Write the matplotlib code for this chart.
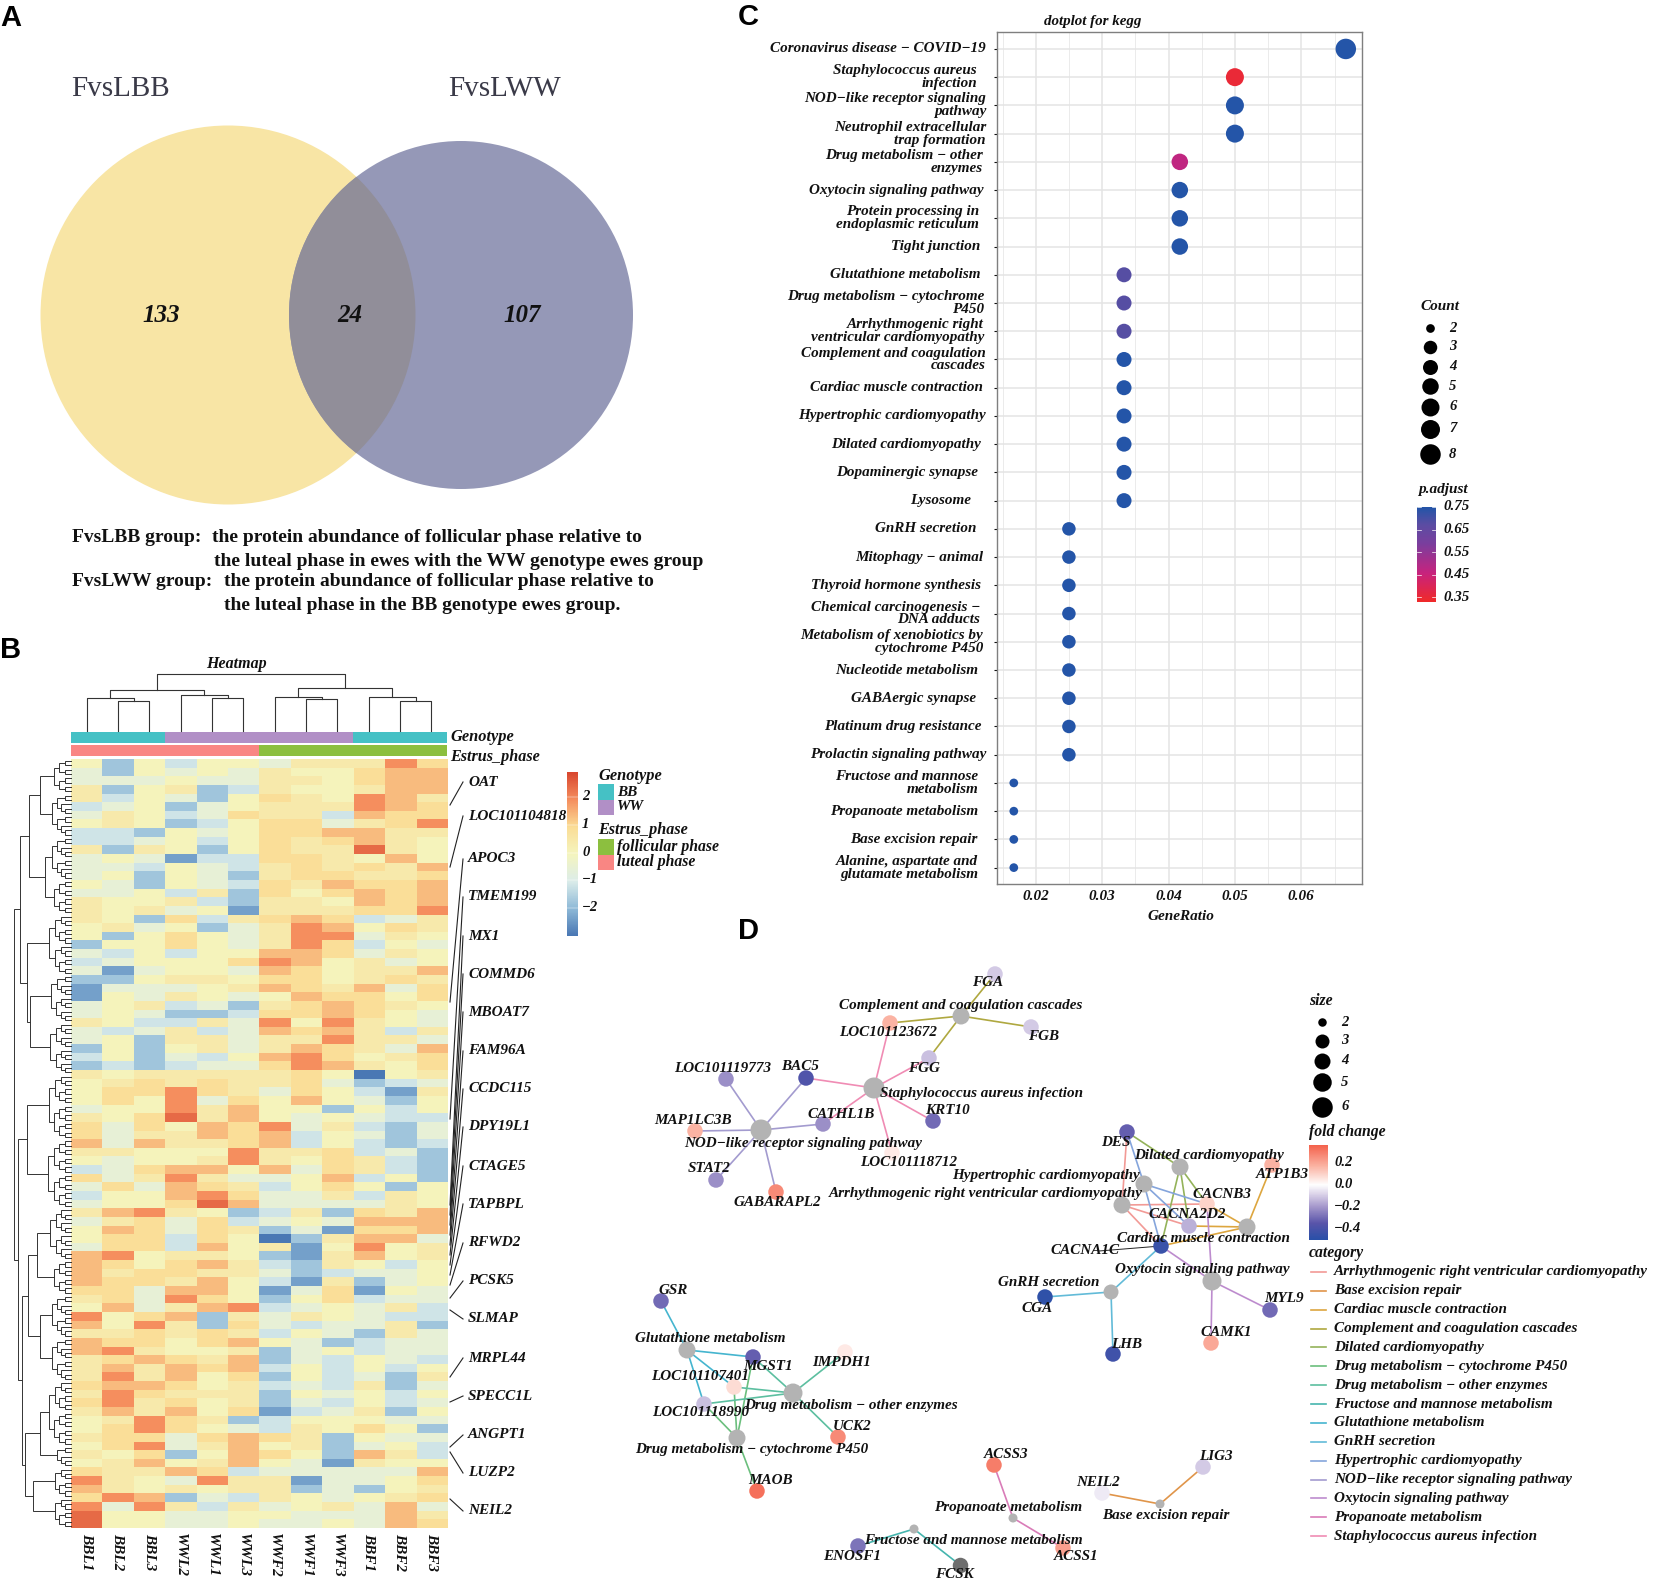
import numpy as np
import matplotlib
matplotlib.use("Agg")
import matplotlib.pyplot as plt
from matplotlib.colors import LinearSegmentedColormap, ListedColormap
from matplotlib.patches import Ellipse, Rectangle

W, H = 1654, 1582

# panel A
venn_counts = ["133", "24", "107"]
venn_names = ["FvsLBB", "FvsLWW"]

# panel B, one string per row, one letter per sample, a = lowest z-score, k = highest
samples = ["BBL1", "BBL2", "BBL3", "WWL2", "WWL1", "WWL3", "WWF2", "WWF1", "WWF3", "BBF1", "BBF2", "BBF3"]
level_values = dict(a=-3.0, b=-2.4, c=-1.8, d=-1.2, e=-0.6, f=0.0, g=0.4, h=0.85, i=1.35, j=1.9, k=2.4)
heat_rows = [
    "fcfdffegggjh", "ecfefegffhii", "eeefeeggfhii", "gcfgcdgffgii", "gdfecfhgfjig", "defcefgggjih",
    "egfdehggdihh", "fgfcdfhheghj", "ddcfefhhiigg", "ddefdfhghigf", "gcgfcfhggkgf", "efebddhhgfif",
    "eedfedghghgi", "efcfecghhggh", "fecfedhgihhi", "eefdgchfhihi", "gffgdcggfihi", "gfgefbggghhj",
    "gfchdghihdeg", "fgefcegjifhg", "fcfhfegjjegf", "cffhfegjhdfe", "edfdffiihegf", "defffhjifgef",
    "ebeffeihfggi", "ccfggfhhfghg", "beeefgihgieh", "bfegfefihhfh", "efgdecghihgf", "efeccdhhihfe",
    "gfddgejfjgfe", "edegdeihigdg", "efcggeggjgge", "cfcfgegihgei", "dfcedfijhfgh", "cdcdeehjigfh",
    "gfggggghfafg", "fghghgghecde", "fhhjhgehfdbg", "fhfjehfifecf", "effjgiffcfdf", "gfhkgifefedd",
    "hehfihjegdce", "heggihidfece", "ieigghidfdcd", "ggfffjgghdec", "feffgjgfhgdc", "dehiifiehgdc",
    "hegjgeefidfc", "eheihgdfhfcf", "dffijheegdgf", "effhkieeeegf", "gijgfcdgchgi", "eghehdefeiii",
    "fihehgcebhhi", "fhhdhfacgiie", "ehhdifgbfjfg", "ijfggfcbgifg", "ihfhigdcgfdf", "ighhggecdeef",
    "ihhgifdbgcef", "hheiifbehbfe", "ghejhfcfhdee", "fiegijdefegd", "jfhicgegfedd", "ifjgchedeegc",
    "gghghgdfecge", "ihhfhifecdee", "ijgffgcefdee", "ghihgicedfed", "gigihidfdfdf", "gjgifhcfdecg",
    "hiihfgdedgce", "gjhgggcfefdf", "hjghfgcedfde", "gigifhbdegcf", "fgjhgcdfffee", "fhjhfedgfhfc",
    "ghhehihgcfee", "fhjegifgcefd", "gfhcfihfcigd", "fgifgifebgff", "hggihdeeeeei", "jgfejggbeefh",
    "igfgfggcecfg", "hjicedgfefgh", "jejgdgefgeie", "kffeeffeeeig", "kffeefeefeih",
]
genotype = ["BB", "BB", "BB", "WW", "WW", "WW", "WW", "WW", "WW", "BB", "BB", "BB"]
estrus = ["luteal", "luteal", "luteal", "luteal", "luteal", "luteal",
          "follicular", "follicular", "follicular", "follicular", "follicular", "follicular"]
heat_genes = ["OAT", "LOC101104818", "APOC3", "TMEM199", "MX1", "COMMD6", "MBOAT7", "FAM96A", "CCDC115", "DPY19L1",
              "CTAGE5", "TAPBPL", "RFWD2", "PCSK5", "SLMAP", "MRPL44", "SPECC1L", "ANGPT1", "LUZP2", "NEIL2"]
gene_label_y = [782, 816, 859, 897, 936, 974, 1012, 1051, 1089, 1127, 1166, 1204, 1243, 1281, 1319, 1358, 1396, 1435, 1473, 1511]
gene_row_y = [805, 867, 1002, 1119, 1205, 1215, 1225, 1235, 1245, 1255, 1265, 1275, 1285, 1298, 1310, 1377, 1402, 1447, 1452, 1499]
# [height, left, right], ints are sample indices
col_tree = [674, [690, [698, 0, [701, 1, 2]], [695, 3, [698, 4, 5]]],
            [688, [697, 6, [699, 7, 8]], [697, 9, [701, 10, 11]]]]
# [x, upper, lower], ints are leaf counts
row_tree = [14, [20, [29, [40, 8, 10], [45, 10, 8]], [27, 14, [30, 11, 12]]],
            [18, [27, 15, 16], [22, [28, [37, 12, 8], [40, 10, 10]], [25, [40, 15, 5], [33, 7, 7]]]]]

# panel C
terms = ["Coronavirus disease \u2212 COVID\u221219", "Staphylococcus aureus\ninfection", "NOD\u2212like receptor signaling\npathway",
         "Neutrophil extracellular\ntrap formation", "Drug metabolism \u2212 other\nenzymes", "Oxytocin signaling pathway",
         "Protein processing in\nendoplasmic reticulum", "Tight junction", "Glutathione metabolism",
         "Drug metabolism \u2212 cytochrome\nP450", "Arrhythmogenic right\nventricular cardiomyopathy",
         "Complement and coagulation\ncascades", "Cardiac muscle contraction", "Hypertrophic cardiomyopathy",
         "Dilated cardiomyopathy", "Dopaminergic synapse", "Lysosome", "GnRH secretion", "Mitophagy \u2212 animal",
         "Thyroid hormone synthesis", "Chemical carcinogenesis \u2212\nDNA adducts", "Metabolism of xenobiotics by\ncytochrome P450",
         "Nucleotide metabolism", "GABAergic synapse", "Platinum drug resistance", "Prolactin signaling pathway",
         "Fructose and mannose\nmetabolism", "Propanoate metabolism", "Base excision repair",
         "Alanine, aspartate and\nglutamate metabolism"]
gene_ratio = [0.0667, 0.05, 0.05, 0.05, 0.0417, 0.0417, 0.0417, 0.0417, 0.0333, 0.0333, 0.0333, 0.0333, 0.0333, 0.0333, 0.0333,
              0.0333, 0.0333, 0.025, 0.025, 0.025, 0.025, 0.025, 0.025, 0.025, 0.025, 0.025, 0.0167, 0.0167, 0.0167, 0.0167]
term_count = [8, 6, 6, 6, 5, 5, 5, 5, 4, 4, 4, 4, 4, 4, 4, 4, 4, 3, 3, 3, 3, 3, 3, 3, 3, 3, 2, 2, 2, 2]
p_adjust = [0.75, 0.35, 0.75, 0.75, 0.47, 0.75, 0.75, 0.75, 0.68, 0.68, 0.68, 0.75, 0.75, 0.75, 0.75, 0.75, 0.75,
            0.75, 0.75, 0.75, 0.75, 0.75, 0.75, 0.75, 0.75, 0.75, 0.75, 0.75, 0.75, 0.75]
ratio_ticks = [0.02, 0.03, 0.04, 0.05, 0.06]
count_legend = [2, 3, 4, 5, 6, 7, 8]
padjust_ticks = [0.75, 0.65, 0.55, 0.45, 0.35]
# the labels do not share one right edge in the original
term_gap = [11, 20, 11, 11, 14, 13, 18, 17, 16, 13, 13, 11, 14, 11, 16, 19, 26, 21, 14, 16, 17, 14, 19, 21, 15, 11, 19, 19, 19, 19]

# panel D, name: x, y of the layout, fold change
gene_nodes = {
    "FGA": (995, 974, -0.10), "LOC101123672": (890, 1023, 0.17), "FGB": (1031, 1027, -0.10), "FGG": (929, 1058, -0.12),
    "BAC5": (806, 1078, -0.38), "LOC101119773": (726, 1079, -0.22), "KRT10": (933, 1121, -0.30), "CATHL1B": (823, 1124, -0.22),
    "MAP1LC3B": (695, 1131, 0.17), "LOC101118712": (892, 1153, 0.05), "STAT2": (716, 1180, -0.22), "GABARAPL2": (776, 1192, 0.27),
    "DES": (1127, 1132, -0.33), "ATP1B3": (1272, 1165, 0.17), "CACNB3": (1207, 1204, 0.10), "CACNA2D2": (1189, 1226, -0.15),
    "CACNA1C": (1161, 1246, -0.45), "CGA": (1045, 1297, -0.48), "MYL9": (1270, 1310, -0.30), "LHB": (1113, 1354, -0.43),
    "CAMK1": (1211, 1343, 0.20), "GSR": (661, 1301, -0.30), "MGST1": (753, 1357, -0.33), "IMPDH1": (845, 1352, 0.05),
    "LOC101107401": (734, 1387, 0.08), "LOC101118990": (704, 1404, -0.12), "UCK2": (838, 1437, 0.27), "MAOB": (757, 1491, 0.33),
    "ACSS3": (994, 1465, 0.30), "ACSS1": (1063, 1548, 0.22), "LIG3": (1203, 1467, -0.10), "NEIL2": (1102, 1493, -0.04),
    "ENOSF1": (858, 1546, -0.28),
}
fcsk_node = (960, 1565)
pathway_nodes = {
    "Complement and coagulation cascades": (961, 1016, 4), "Staphylococcus aureus infection": (874, 1088, 6),
    "NOD\u2212like receptor signaling pathway": (761, 1130, 6), "Dilated cardiomyopathy": (1180, 1167, 4),
    "Hypertrophic cardiomyopathy": (1144, 1184, 4), "Arrhythmogenic right ventricular cardiomyopathy": (1122, 1205, 4),
    "Cardiac muscle contraction": (1247, 1227, 4), "Oxytocin signaling pathway": (1212, 1281, 5), "GnRH secretion": (1111, 1292, 3),
    "Glutathione metabolism": (687, 1350, 4), "Drug metabolism \u2212 other enzymes": (793, 1393, 5),
    "Drug metabolism \u2212 cytochrome P450": (737, 1438, 4), "Propanoate metabolism": (1013, 1518, 2),
    "Base excision repair": (1160, 1504, 2), "Fructose and mannose metabolism": (914, 1529, 2),
}
categories = ["Arrhythmogenic right ventricular cardiomyopathy", "Base excision repair", "Cardiac muscle contraction",
              "Complement and coagulation cascades", "Dilated cardiomyopathy", "Drug metabolism \u2212 cytochrome P450",
              "Drug metabolism \u2212 other enzymes", "Fructose and mannose metabolism", "Glutathione metabolism", "GnRH secretion",
              "Hypertrophic cardiomyopathy", "NOD\u2212like receptor signaling pathway", "Oxytocin signaling pathway",
              "Propanoate metabolism", "Staphylococcus aureus infection"]
category_colors = ["#F29A96", "#E0954A", "#DDA63F", "#AFA840", "#94B35A", "#6BBF7D", "#5CBFA0", "#45B5AE", "#45B5CF", "#62BBD8",
                   "#85A5DC", "#A39BCF", "#BD8CCE", "#D97CB8", "#F08CB4"]
category_genes = {
    "Complement and coagulation cascades": ["FGA", "LOC101123672", "FGB", "FGG"],
    "Staphylococcus aureus infection": ["LOC101123672", "FGG", "BAC5", "KRT10", "CATHL1B", "LOC101118712"],
    "NOD\u2212like receptor signaling pathway": ["LOC101119773", "BAC5", "CATHL1B", "MAP1LC3B", "STAT2", "GABARAPL2"],
    "Dilated cardiomyopathy": ["DES", "CACNB3", "CACNA2D2", "CACNA1C"],
    "Hypertrophic cardiomyopathy": ["DES", "CACNB3", "CACNA2D2", "CACNA1C"],
    "Arrhythmogenic right ventricular cardiomyopathy": ["DES", "CACNB3", "CACNA2D2", "CACNA1C"],
    "Cardiac muscle contraction": ["ATP1B3", "CACNB3", "CACNA2D2", "CACNA1C"],
    "Oxytocin signaling pathway": ["CACNB3", "CACNA1C", "MYL9", "CAMK1"],
    "GnRH secretion": ["CGA", "LHB", "CACNA1C"],
    "Glutathione metabolism": ["GSR", "MGST1", "LOC101107401", "LOC101118990"],
    "Drug metabolism \u2212 other enzymes": ["MGST1", "IMPDH1", "LOC101107401", "LOC101118990", "UCK2"],
    "Drug metabolism \u2212 cytochrome P450": ["MGST1", "LOC101107401", "LOC101118990", "MAOB"],
    "Propanoate metabolism": ["ACSS3", "ACSS1"],
    "Base excision repair": ["LIG3", "NEIL2"],
    "Fructose and mannose metabolism": ["ENOSF1", "FCSK"],
}
size_legend = [2, 3, 4, 5, 6]
fold_ticks = [0.2, 0.0, -0.2, -0.4]
# label centres in panel D
net_labels = {
    "FGA": (988, 982), "Complement and coagulation cascades": (961, 1005), "LOC101123672": (888, 1033), "FGB": (1044, 1036),
    "LOC101119773": (723, 1069), "BAC5": (800, 1067), "FGG": (924, 1068), "Staphylococcus aureus infection": (981, 1094),
    "CATHL1B": (841, 1114), "KRT10": (947, 1111), "MAP1LC3B": (693, 1121), "NOD\u2212like receptor signaling pathway": (803, 1143),
    "LOC101118712": (909, 1162), "STAT2": (709, 1169), "GABARAPL2": (777, 1202), "DES": (1116, 1142),
    "Dilated cardiomyopathy": (1209, 1156), "ATP1B3": (1282, 1175), "Hypertrophic cardiomyopathy": (1046, 1175),
    "Arrhythmogenic right ventricular cardiomyopathy": (986, 1194), "CACNB3": (1222, 1194), "CACNA2D2": (1187, 1215),
    "Cardiac muscle contraction": (1203, 1238), "CACNA1C": (1085, 1251), "Oxytocin signaling pathway": (1202, 1270),
    "GnRH secretion": (1049, 1283), "CGA": (1037, 1308), "MYL9": (1284, 1299), "LHB": (1127, 1344), "CAMK1": (1226, 1332),
    "GSR": (673, 1291), "Glutathione metabolism": (710, 1339), "MGST1": (768, 1367), "IMPDH1": (842, 1363),
    "LOC101107401": (700, 1376), "Drug metabolism \u2212 other enzymes": (851, 1405), "LOC101118990": (701, 1413), "UCK2": (852, 1427),
    "Drug metabolism \u2212 cytochrome P450": (752, 1449), "MAOB": (771, 1480), "ACSS3": (1006, 1455), "LIG3": (1216, 1456),
    "NEIL2": (1098, 1482), "Propanoate metabolism": (1008, 1508), "Base excision repair": (1166, 1516),
    "Fructose and mannose metabolism": (973, 1540), "ENOSF1": (852, 1557), "ACSS1": (1076, 1556), "FCSK": (954, 1574),
}

plt.rcParams["font.family"] = ["Liberation Serif", "DejaVu Serif"]

fig = plt.figure(figsize=(W / 100, H / 100), dpi=100, facecolor="white")


def px_axes(x0, y0, x1, y1, **kw):
    return fig.add_axes([x0 / W, 1 - y1 / H, (x1 - x0) / W, (y1 - y0) / H], **kw)


page = px_axes(0, 0, W, H)
page.set_xlim(0, W)
page.set_ylim(H, 0)
page.axis("off")
page.set_zorder(5)
page.patch.set_alpha(0)


def bi(x, y, s, size=11, ha="left", va="center", **kw):
    page.text(x, y, s, fontsize=size, fontweight="bold", fontstyle="italic", ha=ha, va=va, color="#111111", **kw)


def panel_letter(x, y, s):
    page.text(x, y, s, fontsize=21, fontweight="bold", family="Liberation Sans", ha="left", va="center", color="black")


def diam(d):
    # pixel diameter to scatter area
    return (d * 0.72) ** 2


panel_letter(0, 18, "A")
panel_letter(0, 650, "B")
panel_letter(738, 17, "C")
panel_letter(738, 931, "D")

# ---- A: venn
yellow = Ellipse((228, 315), 375, 379, fc="#F8E5A5", ec="none")
blue = Ellipse((461, 315), 344, 348, fc="#9598B7", ec="none")
page.add_patch(yellow)
page.add_patch(blue)
overlap = Ellipse((228, 315), 375, 379, fc="#918E99", ec="none", zorder=1.5)
page.add_patch(overlap)
overlap.set_clip_path(blue)
page.text(71, 89, venn_names[0], fontsize=21, color="#3A3A48", va="center")
page.text(448, 89, venn_names[1], fontsize=21, color="#3A3A48", va="center")
for x, s in zip([161, 350, 522], venn_counts):
    bi(x, 316, s, size=18, ha="center")
venn_lines = [(72, 537, "FvsLBB group:"), (212, 537, "the protein abundance of follicular phase relative to"),
              (214, 561, "the luteal phase in ewes with the WW genotype ewes group"),
              (72, 582, "FvsLWW group:"), (224, 582, "the protein abundance of follicular phase relative to"),
              (224, 605, "the luteal phase in the BB genotype ewes group.")]
for x, y, s in venn_lines:
    page.text(x, y, s, fontsize=14, fontweight="bold", color="#111111", va="center")

# ---- B: heatmap
heat_cmap = LinearSegmentedColormap.from_list(
    "heat", ["#4A78B4", "#8FBAD8", "#DCEDEA", "#F5F5BE", "#FBDD96", "#F58E5E", "#D9472F"])
heat_x0, heat_x1, heat_y0, heat_y1 = 71, 447, 759, 1528
heat_vals = np.array([[level_values[c] for c in row] for row in heat_rows])
ax_heat = px_axes(heat_x0, heat_y0, heat_x1, heat_y1)
ax_heat.imshow(heat_vals, aspect="auto", cmap=heat_cmap, vmin=-3, vmax=2.9, interpolation="nearest")
ax_heat.axis("off")

ax_anno = px_axes(heat_x0, 732, heat_x1, 756)
geno_cmap = ListedColormap(["#45C1C5", "#B18FC6"])
phase_cmap = ListedColormap(["#8CBF3F", "#F98683"])
ax_anno.set_xlim(0, 12)
ax_anno.set_ylim(24, 0)
ax_anno.axis("off")
for i in range(12):
    ax_anno.add_patch(Rectangle((i, 0), 1, 11, fc=geno_cmap(0 if genotype[i] == "BB" else 1), ec="none"))
    ax_anno.add_patch(Rectangle((i, 13), 1, 11, fc=phase_cmap(0 if estrus[i] == "follicular" else 1), ec="none"))

col_step = (heat_x1 - heat_x0) / 12


def draw_col(node):
    if isinstance(node, int):
        return heat_x0 + col_step * (node + 0.5), 731
    h, a, b = node
    xa, ya = draw_col(a)
    xb, yb = draw_col(b)
    page.plot([xa, xa, xb, xb], [ya, h, h, yb], color="#333333", lw=0.8)
    return (xa + xb) / 2, h


draw_col(col_tree)

leaf_h = (heat_y1 - heat_y0) / 178


def draw_row(node, first):
    # returns x, y of the join and next free leaf
    if isinstance(node, int):
        if node == 1:
            return heat_x0, heat_y0 + (first + 0.5) * leaf_h, first + 1
        x = 71 - 5.5 * np.log2(node) - 1
        a = node // 2
        node = [x, a, node - a]
    x, a, b = node
    xa, ya, nxt = draw_row(a, first)
    xb, yb, nxt = draw_row(b, nxt)
    page.plot([xa, x, x, xb], [ya, ya, yb, yb], color="#333333", lw=0.7, solid_joinstyle="miter")
    return x, (ya + yb) / 2, nxt


draw_row(row_tree, 0)

bi(236, 664, "Heatmap", size=11.5, ha="center")
bi(450, 737, "Genotype", size=11.8)
bi(450, 757, "Estrus_phase", size=11.6)
for g, ly, ry in zip(heat_genes, gene_label_y, gene_row_y):
    bi(468, ly, g, size=11)
    page.plot([450, 463], [ry, ly], color="#222222", lw=0.8)
for i, s in enumerate(samples):
    page.text(heat_x0 + col_step * (i + 0.5), 1533, s, rotation=-90, fontsize=11, fontweight="bold", fontstyle="italic",
              ha="center", va="top", color="#111111")

ax_cb = px_axes(567, 772, 578, 936)
ax_cb.imshow(np.linspace(2.9, -3, 200)[:, None], aspect="auto", cmap=heat_cmap, vmin=-3, vmax=2.9, extent=[0, 1, -3, 2.9])
ax_cb.axis("off")
for v in [2, 1, 0, -1, -2]:
    ax_cb.plot([0, 1], [v, v], color="white", lw=0.3)
    bi(582, 852 - 27.7 * v, str(v).replace("-", "\u2212"), size=10.5)
bi(598, 776, "Genotype", size=11.8)
page.add_patch(Rectangle((598, 784), 16, 16, fc=geno_cmap(0), ec="none"))
page.add_patch(Rectangle((598, 800), 16, 15, fc=geno_cmap(1), ec="none"))
bi(617, 792, "BB", size=11)
bi(617, 807, "WW", size=11)
bi(598, 830, "Estrus_phase", size=11.6)
page.add_patch(Rectangle((598, 839), 16, 16, fc=phase_cmap(0), ec="none"))
page.add_patch(Rectangle((598, 855), 16, 15, fc=phase_cmap(1), ec="none"))
bi(617, 847, "follicular phase", size=11.3)
bi(617, 862, "luteal phase", size=11.3)

# ---- C: dotplot
ax_dot = px_axes(997, 32, 1362, 884)
padj_cmap = LinearSegmentedColormap.from_list(
    "padj", [(0.0, "#F02A2A"), (0.3, "#C8237E"), (0.62, "#7A3F9E"), (0.82, "#5B4DA3"), (1.0, "#2455A8")])
ypos = np.arange(len(terms))
count_diam = {2: 8.7, 3: 13.5, 4: 15, 5: 16.5, 6: 18, 7: 19, 8: 20.5}
ax_dot.scatter(gene_ratio, ypos, s=[diam(count_diam[c]) for c in term_count], c=p_adjust, cmap=padj_cmap, vmin=0.33, vmax=0.75,
               zorder=3, linewidths=0)
ax_dot.set_xlim(0.01417, 0.06914)
ax_dot.set_ylim(len(terms) - 1 + 0.58, -0.6)
ax_dot.set_xticks(ratio_ticks)
ax_dot.set_xticks([0.015, 0.025, 0.035, 0.045, 0.055, 0.065], minor=True)
ax_dot.set_xticklabels(["%.2f" % t for t in ratio_ticks], fontsize=11, fontweight="bold", fontstyle="italic")
ax_dot.set_yticks(ypos)
ax_dot.set_yticklabels([])
for term, y, gap in zip(terms, ypos, term_gap):
    ax_dot.annotate(term, xy=(0, y), xycoords=("axes fraction", "data"), xytext=(-gap, 0), textcoords="offset pixels",
                    ha="right", va="center", ma="right", fontsize=10.9, fontweight="bold", fontstyle="italic",
                    linespacing=0.98, color="#111111", annotation_clip=False)
ax_dot.grid(True, which="major", color="#E4E4E4", lw=1.1)
ax_dot.grid(True, which="minor", axis="x", color="#EBEBEB", lw=0.7)
ax_dot.set_axisbelow(True)
ax_dot.tick_params(axis="x", which="major", length=0, pad=4, colors="#111111")
ax_dot.tick_params(axis="x", which="minor", length=0)
ax_dot.tick_params(axis="y", length=2.5, width=0.8, colors="#111111")
for sp in ax_dot.spines.values():
    sp.set_color("#7F7F7F")
    sp.set_linewidth(1)
bi(1093, 22, "dotplot for kegg", size=10.8, ha="center")
bi(1181, 917, "GeneRatio", size=11, ha="center")

bi(1420, 307, "Count", size=11)
for c, y in zip(count_legend, [328, 347, 367, 386, 407, 429, 454]):
    page.scatter([1430], [y], s=diam(count_diam[c]), color="black", linewidths=0)
    bi(1449, y, str(c), size=10.5)
bi(1418, 490, "p.adjust", size=11)
ax_pb = px_axes(1417, 507, 1436, 602)
ax_pb.imshow(np.linspace(0.75, 0.33, 100)[:, None], aspect="auto", cmap=padj_cmap, vmin=0.33, vmax=0.75, extent=[0, 1, 0.33, 0.75])
ax_pb.axis("off")
for t in padjust_ticks:
    y = 507 + (0.75 - t) / 0.42 * 95
    bi(1443, y, "%.2f" % t, size=10.8)
    page.plot([1417, 1421], [y, y], color="white", lw=0.5)
    page.plot([1432, 1436], [y, y], color="white", lw=0.5)

# ---- D: network
fold_lo, fold_hi = -0.5, 0.37
fold_stops = [(-0.5, "#2A50A8"), (-0.35, "#5A55AA"), (-0.2, "#A598CC"), (-0.08, "#DDD5EA"), (0.0, "#FFFFFF"),
              (0.17, "#FBB4A4"), (0.37, "#F4604A")]
fold_cmap = LinearSegmentedColormap.from_list("fold", [((v - fold_lo) / (fold_hi - fold_lo), c) for v, c in fold_stops])
for cat, col in zip(categories, category_colors):
    px, py, _ = pathway_nodes[cat]
    for g in category_genes[cat]:
        gx, gy = fcsk_node if g == "FCSK" else gene_nodes[g][:2]
        page.plot([px, gx], [py, gy], color=col, lw=1.2, zorder=2)
# short dark edge by the CACNA1C label
page.plot([1099, 1161], [1251, 1246], color="#222222", lw=0.7, zorder=2)

node_diam = {2: 9, 3: 15, 4: 17, 5: 19, 6: 21}
gx = [v[0] for v in gene_nodes.values()]
gy = [v[1] for v in gene_nodes.values()]
gc = [v[2] for v in gene_nodes.values()]
page.scatter(gx, gy, s=diam(15.5), c=gc, cmap=fold_cmap, vmin=fold_lo, vmax=fold_hi, linewidths=0, zorder=3)
page.scatter([fcsk_node[0]], [fcsk_node[1]], s=diam(15.5), color="#6E6E6E", linewidths=0, zorder=3)
page.scatter([v[0] for v in pathway_nodes.values()], [v[1] for v in pathway_nodes.values()],
             s=[diam(node_diam[v[2]]) for v in pathway_nodes.values()], color="#B3B3B3", linewidths=0, zorder=3)
for name, (x, y) in net_labels.items():
    page.text(x, y, name, fontsize=10.9, fontweight="bold", fontstyle="italic", ha="center", va="center", color="#111111", zorder=4)

bi(1309, 1001, "size", size=11.3)
legend_diam = {2: 8.5, 3: 14, 4: 16, 5: 18.5, 6: 20.5}
for c, y in zip(size_legend, [1022, 1041, 1061, 1082, 1107]):
    page.scatter([1322], [y], s=diam(legend_diam[c]), color="black", linewidths=0)
    bi(1341, y, str(c), size=10.5)
bi(1309, 1132, "fold change", size=11.3)
ax_fb = px_axes(1309, 1145, 1328, 1240)
ax_fb.imshow(np.linspace(fold_hi, fold_lo, 100)[:, None], aspect="auto", cmap=fold_cmap, vmin=fold_lo, vmax=fold_hi,
             extent=[0, 1, fold_lo, fold_hi])
ax_fb.axis("off")
for t in fold_ticks:
    y = 1185 - t * 110
    bi(1334, y, ("%.1f" % t).replace("-", "\u2212"), size=10.5)
bi(1309, 1253, "category", size=11.3)
for i, (cat, col) in enumerate(zip(categories, category_colors)):
    y = 1272 + i * 18.87
    page.plot([1311, 1326], [y, y], color=col, lw=1.2)
    bi(1334, y, cat, size=10.9)

page.set_xlim(0, W)
page.set_ylim(H, 0)
fig.savefig("out.png", dpi=100)
